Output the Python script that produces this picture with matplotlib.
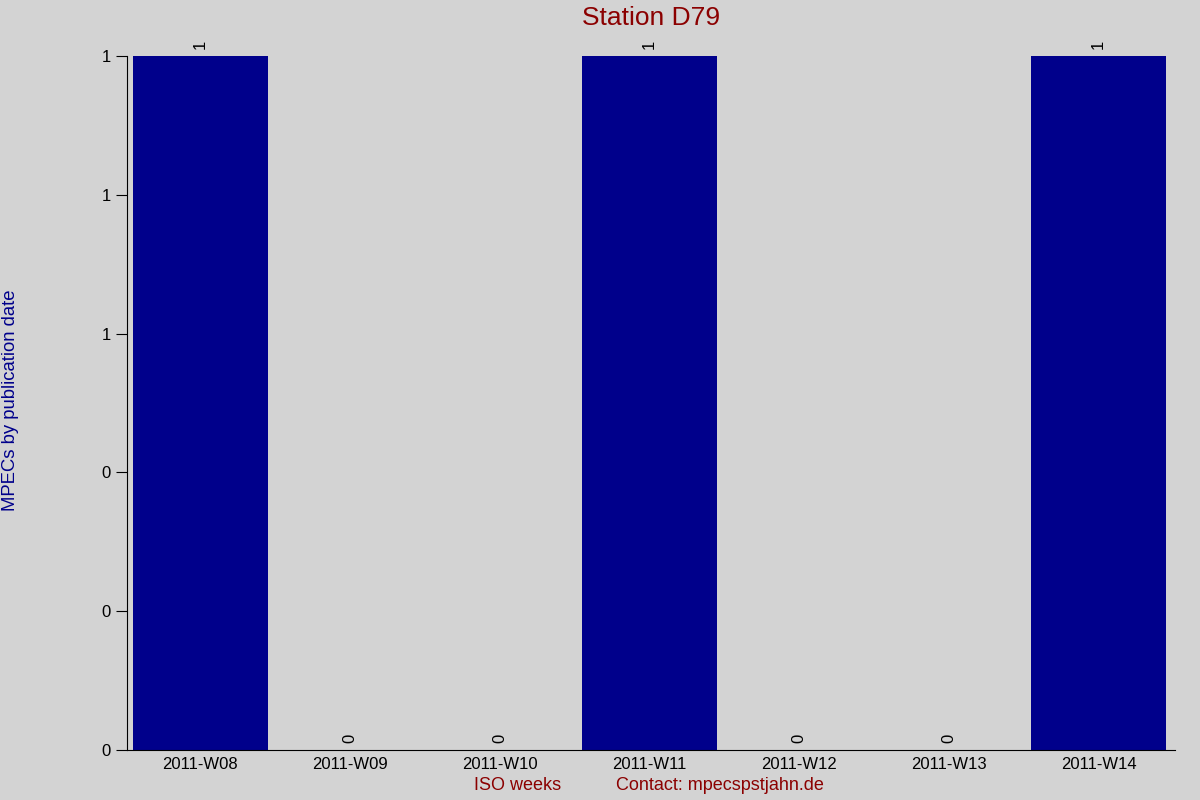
import matplotlib
matplotlib.use("Agg")
import matplotlib.pyplot as plt
from matplotlib.ticker import FormatStrFormatter

weeks = ["2011-W08", "2011-W09", "2011-W10", "2011-W11", "2011-W12", "2011-W13", "2011-W14"]
counts = [1, 0, 0, 1, 0, 0, 1]
yticks = [0, 0.2, 0.4, 0.6, 0.8, 1.0]

plt.rcParams['font.family'] = ['Liberation Sans', 'DejaVu Sans']

fig = plt.figure(figsize=(12, 8), dpi=100, facecolor="#d3d3d3")
ax = fig.add_axes([127 / 1200, 50 / 800, 1048 / 1200, 694 / 800])
ax.set_facecolor("#d3d3d3")

x = list(range(len(weeks)))
ax.bar(x, counts, width=0.9, color="#00008b")

# value labels above each bar
for xi, c in zip(x, counts):
    ax.annotate("%d" % c, (xi, c), xytext=(0, 5), textcoords="offset points",
                rotation=90, ha="center", va="bottom", fontsize=12)

ax.set_xlim(-0.49, 6.51)
ax.set_ylim(0, 1)
ax.set_xticks(x)
ax.set_xticklabels(weeks, fontsize=12)
ax.set_yticks(yticks)
ax.yaxis.set_major_formatter(FormatStrFormatter("%.0f"))
ax.tick_params(axis="y", labelsize=12, length=8, direction="out")
ax.tick_params(axis="x", length=0, pad=5)

ax.spines["top"].set_visible(False)
ax.spines["right"].set_visible(False)

fig.text(651 / 1200, 1 - 18 / 800, "Station D79", ha="center", va="center", fontsize=19, color="#8b0000")
fig.text(518 / 1200, 1 - 786 / 800, "ISO weeks", ha="center", va="center", fontsize=13, color="#8b0000")
fig.text(720 / 1200, 1 - 786 / 800, "Contact: mpecspstjahn.de", ha="center", va="center", fontsize=13, color="#8b0000")
fig.text(11 / 1200, 0.5, "MPECs by publication date", rotation=90, ha="center", va="center", fontsize=13.3, color="#00008b")

fig.savefig("out.png", dpi=100, facecolor=fig.get_facecolor())
